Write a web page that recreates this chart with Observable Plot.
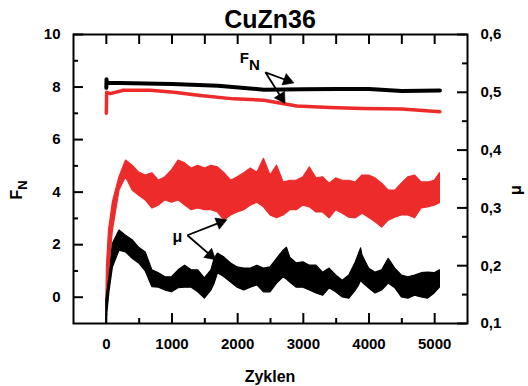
<!DOCTYPE html>
<html><head><meta charset="utf-8">
<script src="https://cdn.jsdelivr.net/npm/d3@7"></script>
<script src="https://cdn.jsdelivr.net/npm/@observablehq/plot@0.6"></script>
<style>body{margin:0;background:#fff}</style>
</head><body><div id="chart"></div>
<script>
// ---- texts & ticks ----
const chartTitle = "CuZn36";
const xTitle = "Zyklen";
const xTicks = [0, 1000, 2000, 3000, 4000, 5000];
const xMinor = [500, 1500, 2500, 3500, 4500];
const xTop = [0, 500, 1000, 1500, 2000, 2500, 3000, 3500, 4000, 4500, 5000];
const fnTicks = [0, 2, 4, 6, 8, 10];
const fnMinor = [1, 3, 5, 7, 9];
const muTicks = [0.1, 0.2, 0.3, 0.4, 0.5, 0.6];
const muMinor = [0.15, 0.25, 0.35, 0.45, 0.55];

// ---- F_N (left axis) ----
const fnBlackCycles = [0, 3, 10, 200, 1000, 1700, 2400, 3000, 3500, 4000, 4500, 5080];
const fnBlackValues = [7.97, 8.3, 8.15, 8.15, 8.12, 8.05, 7.9, 7.92, 7.93, 7.93, 7.85, 7.87];
const fnRedCycles = [0, 5, 60, 260, 670, 1030, 1430, 1940, 2400, 2900, 3400, 3900, 4500, 5080];
const fnRedValues = [7.0, 7.8, 7.75, 7.88, 7.88, 7.8, 7.68, 7.55, 7.5, 7.28, 7.22, 7.18, 7.16, 7.06];

// ---- mu (right axis), noisy bands: high / low envelopes ----
const muRedCycles = [0, 10, 40, 100, 200, 300, 400, 500, 600, 700, 800, 900, 1000, 1100, 1200, 1300, 1400, 1500, 1600, 1700, 1800, 1900, 2000, 2100, 2200, 2300, 2400, 2500, 2600, 2700, 2800, 2900, 3000, 3100, 3200, 3300, 3400, 3500, 3600, 3700, 3800, 3900, 4000, 4100, 4200, 4300, 4400, 4500, 4600, 4700, 4800, 4900, 5000, 5080];
const muRedHigh = [0.14, 0.2, 0.26, 0.31, 0.353, 0.382, 0.373, 0.361, 0.356, 0.360, 0.347, 0.353, 0.365, 0.382, 0.377, 0.368, 0.373, 0.368, 0.373, 0.370, 0.360, 0.347, 0.353, 0.360, 0.368, 0.361, 0.385, 0.356, 0.373, 0.344, 0.347, 0.347, 0.353, 0.370, 0.351, 0.353, 0.342, 0.351, 0.347, 0.347, 0.344, 0.356, 0.356, 0.351, 0.342, 0.330, 0.330, 0.342, 0.353, 0.356, 0.344, 0.344, 0.347, 0.360];
const muRedLow = [0.1, 0.12, 0.19, 0.26, 0.330, 0.353, 0.330, 0.321, 0.313, 0.299, 0.304, 0.313, 0.309, 0.313, 0.304, 0.296, 0.299, 0.296, 0.296, 0.292, 0.278, 0.287, 0.292, 0.296, 0.304, 0.309, 0.301, 0.287, 0.282, 0.287, 0.296, 0.296, 0.304, 0.301, 0.292, 0.292, 0.282, 0.296, 0.290, 0.283, 0.282, 0.290, 0.283, 0.275, 0.266, 0.278, 0.283, 0.287, 0.287, 0.282, 0.299, 0.301, 0.304, 0.308];

const muBlackCycles = [0, 50, 100, 200, 300, 400, 500, 600, 700, 800, 900, 1000, 1100, 1200, 1300, 1400, 1500, 1600, 1650, 1700, 1800, 1900, 2000, 2100, 2200, 2300, 2400, 2500, 2600, 2700, 2750, 2800, 2900, 3000, 3100, 3200, 3300, 3400, 3500, 3600, 3700, 3800, 3850, 3880, 3900, 4000, 4100, 4200, 4300, 4400, 4500, 4600, 4700, 4800, 4900, 5000, 5080];
const muBlackHigh = [0.14, 0.183, 0.238, 0.261, 0.252, 0.244, 0.231, 0.223, 0.192, 0.187, 0.180, 0.180, 0.192, 0.200, 0.192, 0.192, 0.178, 0.192, 0.212, 0.221, 0.214, 0.204, 0.197, 0.195, 0.195, 0.200, 0.195, 0.197, 0.212, 0.226, 0.231, 0.214, 0.204, 0.206, 0.200, 0.200, 0.188, 0.195, 0.183, 0.174, 0.183, 0.206, 0.221, 0.230, 0.218, 0.195, 0.188, 0.192, 0.212, 0.195, 0.183, 0.180, 0.183, 0.187, 0.188, 0.187, 0.192];
const muBlackLow = [0.1, 0.157, 0.197, 0.226, 0.223, 0.212, 0.204, 0.190, 0.163, 0.162, 0.157, 0.154, 0.161, 0.162, 0.162, 0.154, 0.143, 0.157, 0.169, 0.187, 0.180, 0.171, 0.162, 0.157, 0.162, 0.166, 0.154, 0.154, 0.169, 0.180, 0.176, 0.171, 0.162, 0.162, 0.157, 0.152, 0.148, 0.161, 0.154, 0.145, 0.143, 0.157, 0.166, 0.174, 0.171, 0.161, 0.152, 0.157, 0.169, 0.161, 0.145, 0.143, 0.148, 0.145, 0.143, 0.152, 0.162];

// ---- annotations (data coordinates: cycles, F_N units) ----
const fnNoteF = [2102, 9.09];
const fnNoteN = [2254, 8.82];
const fnArrows = [[2422, 8.56, 2757, 8.25], [2422, 8.56, 2665, 7.60]];
const muNote = [1081, 2.28];
const muArrows = [[1234, 2.36, 1736, 2.85], [1234, 2.36, 1584, 1.60]];

// ---- helpers ----
const RED = "#ee2b2b";
const toF = m => -1 + (m - 0.1) * 22;           // mu -> left-axis units
const fromF = f => 0.1 + (f + 1) / 22;
const fmtMu = f => d3.format(".1f")(fromF(f)).replace(".", ",");

const W = 528, H = 386, mL = 73, mR = 61, mT = 34, mB = 63;
const iw = W - mL - mR, ih = H - mT - mB;
const xDomain = [-500, 5500], yDomain = [-1, 10];
const kx = iw / (xDomain[1] - xDomain[0]), ky = ih / (yDomain[1] - yDomain[0]);

const fnBlack = d3.zip(fnBlackCycles, fnBlackValues).map(([c, v]) => ({c, v}));
const fnRed = d3.zip(fnRedCycles, fnRedValues).map(([c, v]) => ({c, v}));
const muRed = muRedCycles.map((c, i) => ({c, hi: toF(muRedHigh[i]), lo: toF(muRedLow[i])}));
const muBlack = muBlackCycles.map((c, i) => ({c, hi: toF(muBlackHigh[i]), lo: toF(muBlackLow[i])}));
const arrowRows = [...fnArrows, ...muArrows].map(([x1, y1, x2, y2]) => {
  const dx = (x2 - x1) * kx, dy = -(y2 - y1) * ky;
  return {x1, y1, x2, y2, rot: Math.atan2(dx, -dy) * 180 / Math.PI};
});

const svg = Plot.plot({
  width: W, height: H,
  marginLeft: mL, marginRight: mR, marginTop: mT, marginBottom: mB,
  style: {fontFamily: "'Liberation Sans', Arial, sans-serif", fontSize: "15px", fontWeight: "bold", color: "black", background: "white"},
  x: {domain: xDomain},
  y: {domain: yDomain},
  marks: [
    Plot.areaY(muRed, {x: "c", y1: "lo", y2: "hi", fill: RED, stroke: RED, strokeWidth: 1.2, curve: "linear"}),
    Plot.areaY(muBlack, {x: "c", y1: "lo", y2: "hi", fill: "black", stroke: "black", strokeWidth: 1.2, curve: "linear"}),
    Plot.line(fnRed, {x: "c", y: "v", stroke: RED, strokeWidth: 3.5}),
    Plot.line(fnBlack, {x: "c", y: "v", stroke: "black", strokeWidth: 4}),
    Plot.link(arrowRows, {x1: "x1", y1: "y1", x2: "x2", y2: "y2", stroke: "black", strokeWidth: 1.8}),
    Plot.dot(arrowRows, {x: "x2", y: "y2", symbol: "triangle", rotate: "rot", r: 4.5, fill: "black", stroke: "black", strokeWidth: 0.5}),
    Plot.text([fnNoteF], {x: d => d[0], y: d => d[1], text: () => "F", fontSize: 15, fontWeight: "bold"}),
    Plot.text([fnNoteN], {x: d => d[0], y: d => d[1], text: () => "N", fontSize: 15, fontWeight: "bold"}),
    Plot.text([muNote], {x: d => d[0], y: d => d[1], text: () => "μ", fontSize: 16, fontWeight: "bold"}),
    // ticks (inward)
    Plot.tickX(xTicks, {x: d => d, insetTop: ih - 10, strokeWidth: 2}),
    Plot.tickX(xMinor, {x: d => d, insetTop: ih - 5, strokeWidth: 2}),
    Plot.tickX(xTop, {x: d => d, insetBottom: ih - 10, strokeWidth: 2}),
    Plot.tickY(fnTicks, {y: d => d, insetRight: iw - 10, strokeWidth: 2}),
    Plot.tickY(fnMinor, {y: d => d, insetRight: iw - 5, strokeWidth: 2}),
    Plot.tickY(muTicks.map(toF), {y: d => d, insetLeft: iw - 10, strokeWidth: 2}),
    Plot.tickY(muMinor.map(toF), {y: d => d, insetLeft: iw - 5, strokeWidth: 2}),
    // tick labels
    Plot.axisX(xTicks, {tickSize: 0, tickPadding: 15, tickFormat: d3.format("d"), label: null, fontSize: 15, fontWeight: "bold"}),
    Plot.axisY(fnTicks, {anchor: "left", tickSize: 0, tickPadding: 13, label: null, fontSize: 15, fontWeight: "bold"}),
    Plot.axisY(muTicks.map(toF), {anchor: "right", tickSize: 0, tickPadding: 13, tickFormat: fmtMu, label: null, fontSize: 15, fontWeight: "bold"}),
    Plot.frame({stroke: "black", strokeWidth: 2})
  ]
});

const s = d3.select(svg);
const font = "'Liberation Sans', Arial, sans-serif";
s.append("text").attr("x", 270).attr("y", 28).attr("text-anchor", "middle")
  .style("font", `bold 25px ${font}`).attr("fill", "black").text(chartTitle);
s.append("text").attr("x", 270).attr("y", 382).attr("text-anchor", "middle")
  .style("font", `bold 16px ${font}`).attr("fill", "black").text(xTitle);
const yl = s.append("text").attr("transform", "translate(22,190) rotate(-90)").attr("text-anchor", "middle")
  .style("font", `bold 16px ${font}`).attr("fill", "black");
yl.append("tspan").text("F");
yl.append("tspan").attr("dy", "0.35em").style("font-size", "13px").text("N");
s.append("text").attr("transform", "translate(521,190) rotate(-90)").attr("text-anchor", "middle")
  .style("font", `bold 16px ${font}`).attr("fill", "black").text("μ");

document.getElementById("chart").appendChild(svg);
</script>
</body></html>
